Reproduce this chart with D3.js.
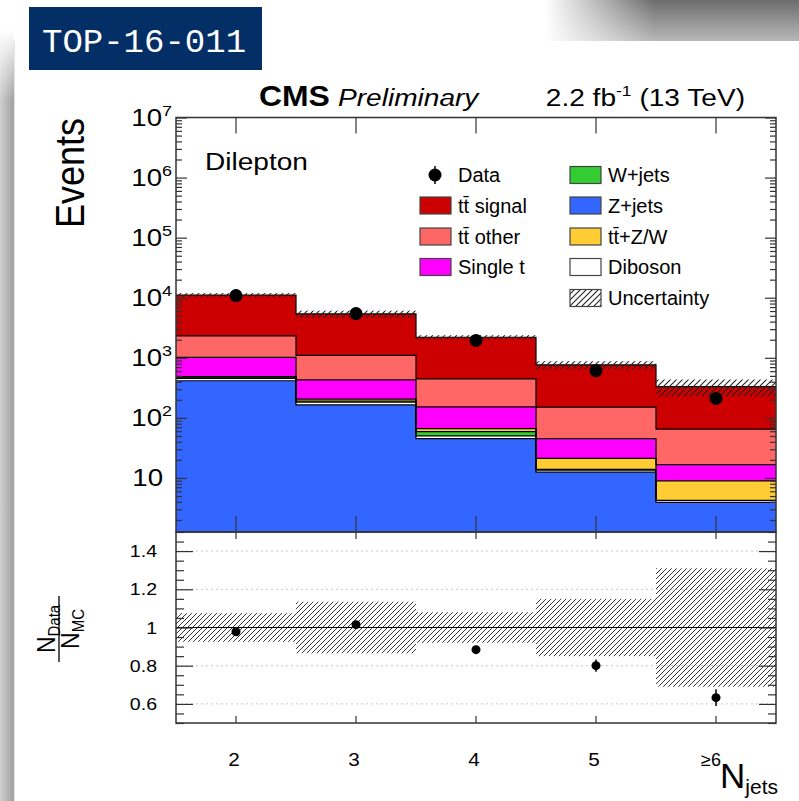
<!DOCTYPE html>
<html><head><meta charset="utf-8">
<script src="https://cdn.jsdelivr.net/npm/d3@7"></script>
<style>body{margin:0;background:#fff}svg{display:block}</style>
</head><body><svg id="c" width="799" height="801"></svg>
<script>
// ---------------- data ----------------
const categories = ["2", "3", "4", "5", "≥6"];
const zJets   = [415, 165, 45, 12.5, 3.9];
const diboson = [40, 18, 5, 1, 0.3];
const wJets   = [20, 8, 9, 0.4, 0.05];
const ttZW    = [12, 14, 7, 7.3, 4.7];
const singleT = [533, 223, 86, 24, 7.7];
const ttOther = [1290, 672, 294, 106, 48.3];
const ttSignal= [8790, 4270, 1754, 611, 267];
const dataObs = [10850, 5450, 1945, 610, 210];
const relUnc  = [0.075, 0.135, 0.08, 0.15, 0.31];
const yMajorTicks = [10, 1e2, 1e3, 1e4, 1e5, 1e6, 1e7];
const ratioTicks = [0.6, 0.8, 1, 1.2, 1.4];

const processes = [
  {key: "zJets", label: "Z+jets", vals: zJets, color: "#3366ff"},
  {key: "diboson", label: "Diboson", vals: diboson, color: "#ffffff"},
  {key: "wJets", label: "W+jets", vals: wJets, color: "#33cc33"},
  {key: "ttZW", label: "tt\u0304+Z/W", vals: ttZW, color: "#ffcc33"},
  {key: "singleT", label: "Single t", vals: singleT, color: "#ff00ff"},
  {key: "ttOther", label: "tt\u0304 other", vals: ttOther, color: "#ff6666"},
  {key: "ttSignal", label: "tt\u0304 signal", vals: ttSignal, color: "#cc0000"}
];
const colorOf = Object.fromEntries(processes.map(p => [p.key, p.color]));

const rows = categories.map((c, i) => {
  const r = {cat: c};
  processes.forEach(p => r[p.key] = p.vals[i]);
  return r;
});
const totals = rows.map(r => d3.sum(processes, p => r[p.key]));

// ---------------- layout ----------------
const svg = d3.select("#c");
const L = 176, R = 776, T = 117.5, MB = 532, RB = 723;
const FONT = "'Liberation Sans', Arial, Helvetica, sans-serif";

const defs = svg.append("defs");
function hatch(id, s, col, w) {
  const p = defs.append("pattern").attr("id", id).attr("patternUnits", "userSpaceOnUse")
    .attr("width", s).attr("height", s);
  p.append("path").attr("d", `M${-1},1 l2,-2 M0,${s} l${s},${-s} M${s-1},${s+1} l2,-2`)
    .attr("stroke", col).attr("stroke-width", w);
}
hatch("hm", 6, "#222", 1.1);
hatch("hr", 5, "#222", 0.9);

// slide decoration
const vg = defs.append("linearGradient").attr("id", "vg").attr("x1", 0).attr("y1", 0).attr("x2", 0).attr("y2", 1);
vg.append("stop").attr("offset", "0").attr("stop-color", "#6c6c6c");
vg.append("stop").attr("offset", "1").attr("stop-color", "#b8b8b8");
const hg = defs.append("linearGradient").attr("id", "hg").attr("gradientUnits", "userSpaceOnUse")
  .attr("x1", 545).attr("y1", 0).attr("x2", 655).attr("y2", 0);
hg.append("stop").attr("offset", "0").attr("stop-color", "#fff").attr("stop-opacity", 0);
hg.append("stop").attr("offset", "1").attr("stop-color", "#fff").attr("stop-opacity", 1);
defs.append("mask").attr("id", "hm1").append("rect").attr("x", 0).attr("y", 0).attr("width", 799).attr("height", 41).attr("fill", "url(#hg)");
const lg = defs.append("linearGradient").attr("id", "lg").attr("x1", 0).attr("y1", 0).attr("x2", 1).attr("y2", 0);
lg.append("stop").attr("offset", "0").attr("stop-color", "#d0d0d0");
lg.append("stop").attr("offset", "1").attr("stop-color", "#a0a0a0");
const tg = defs.append("linearGradient").attr("id", "tg").attr("x1", 0).attr("y1", 0).attr("x2", 0).attr("y2", 1);
tg.append("stop").attr("offset", "0").attr("stop-color", "#fff").attr("stop-opacity", 1);
tg.append("stop").attr("offset", "1").attr("stop-color", "#fff").attr("stop-opacity", 0);

svg.append("rect").attr("x", 0).attr("y", 0).attr("width", 799).attr("height", 41)
  .attr("fill", "url(#vg)").attr("mask", "url(#hm1)");
svg.append("rect").attr("x", 0).attr("y", 30).attr("width", 14).attr("height", 771).attr("fill", "url(#lg)");
svg.append("rect").attr("x", 0).attr("y", 30).attr("width", 14).attr("height", 70).attr("fill", "url(#tg)");
svg.append("rect").attr("x", 14).attr("y", 41).attr("width", 1).attr("height", 760).attr("fill", "#e4e4e4");

svg.append("rect").attr("x", 29).attr("y", 7).attr("width", 233).attr("height", 63).attr("fill", "#032f66");
svg.append("text").attr("x", 42).attr("y", 52).attr("fill", "#fff")
  .attr("font-family", "'Liberation Mono', 'Courier New', monospace").attr("font-size", 34).text("TOP-16-011");

// scales
const x = d3.scaleBand().domain(categories).range([L, R]).paddingInner(0).paddingOuter(0);
const yMin = 1.26;
const y = d3.scaleLog().domain([yMin, 1e7]).range([MB, T]);
const yr = d3.scaleLinear().domain([0.5, 1.5]).range([RB, MB]);

// ---------------- main panel ----------------
const stack = d3.stack().keys(processes.map(p => p.key))(rows);
defs.append("clipPath").attr("id", "cm").append("rect").attr("x", L).attr("y", T).attr("width", R - L).attr("height", MB - T);
const gm = svg.append("g").attr("clip-path", "url(#cm)");
stack.forEach(s => {
  gm.selectAll(null).data(s).enter().append("rect")
    .attr("x", d => x(d.data.cat)).attr("width", x.bandwidth())
    .attr("y", d => y(Math.max(d[1], yMin)))
    .attr("height", d => y(Math.max(d[0], yMin)) - y(Math.max(d[1], yMin)))
    .attr("fill", colorOf[s.key]);
});
const stepLine = d3.line().curve(d3.curveStepAfter);
stack.forEach(s => {
  const pts = s.map(d => [x(d.data.cat), y(Math.max(d[1], yMin))]);
  pts.push([R, pts[pts.length - 1][1]]);
  gm.append("path").attr("d", stepLine(pts)).attr("fill", "none").attr("stroke", "#000").attr("stroke-width", 1.2);
});
// uncertainty band
gm.selectAll(null).data(categories).enter().append("rect")
  .attr("x", c => x(c)).attr("width", x.bandwidth())
  .attr("y", (c, i) => y(totals[i] * (1 + relUnc[i])))
  .attr("height", (c, i) => y(totals[i] * (1 - relUnc[i])) - y(totals[i] * (1 + relUnc[i])))
  .attr("fill", "url(#hm)");
// data
const cx = c => x(c) + x.bandwidth() / 2;
gm.selectAll(null).data(categories).enter().append("line")
  .attr("x1", cx).attr("x2", cx)
  .attr("y1", (c, i) => y(dataObs[i] + Math.sqrt(dataObs[i])))
  .attr("y2", (c, i) => y(dataObs[i] - Math.sqrt(dataObs[i])))
  .attr("stroke", "#000").attr("stroke-width", 1.5);
gm.selectAll(null).data(categories).enter().append("circle")
  .attr("cx", cx).attr("cy", (c, i) => y(dataObs[i])).attr("r", 6.5).attr("fill", "#000");

// ---------------- ratio panel ----------------
const gr = svg.append("g");
gr.selectAll(null).data(ratioTicks.filter(v => v !== 1)).enter().append("line")
  .attr("x1", L).attr("x2", R).attr("y1", d => yr(d)).attr("y2", d => yr(d))
  .attr("stroke", "#c8c8c8").attr("stroke-dasharray", "2,3");
gr.selectAll(null).data(categories).enter().append("rect")
  .attr("x", c => x(c)).attr("width", x.bandwidth())
  .attr("y", (c, i) => yr(1 + relUnc[i]))
  .attr("height", (c, i) => yr(1 - relUnc[i]) - yr(1 + relUnc[i]))
  .attr("fill", "url(#hr)");
gr.append("line").attr("x1", L).attr("x2", R).attr("y1", yr(1)).attr("y2", yr(1)).attr("stroke", "#000").attr("stroke-width", 1);
const ratio = dataObs.map((d, i) => d / totals[i]);
const rErr = dataObs.map((d, i) => Math.sqrt(d) / totals[i]);
gr.selectAll(null).data(categories).enter().append("line")
  .attr("x1", cx).attr("x2", cx)
  .attr("y1", (c, i) => yr(ratio[i] + rErr[i])).attr("y2", (c, i) => yr(ratio[i] - rErr[i]))
  .attr("stroke", "#000").attr("stroke-width", 1.5);
gr.selectAll(null).data(categories).enter().append("circle")
  .attr("cx", cx).attr("cy", (c, i) => yr(ratio[i])).attr("r", 4.5).attr("fill", "#000");

// ---------------- axes ----------------
const axCol = "#333";
function styleAxis(g) {
  g.select(".domain").remove();
  g.selectAll(".tick line").attr("stroke", axCol).attr("stroke-width", 1.2);
  g.selectAll("text").attr("font-family", FONT).attr("fill", "#000");
}
const yMinor = [];
for (let e = 0; e <= 6; e++) for (let m = 2; m <= 9; m++) { const v = m * Math.pow(10, e); if (v >= yMin && v <= 1e7) yMinor.push(v); }
const supDigits = {1: "", 2: "2", 3: "3", 4: "4", 5: "5", 6: "6", 7: "7"};
svg.append("g").attr("transform", `translate(${L},0)`)
  .call(d3.axisLeft(y).tickValues(yMajorTicks).tickSizeInner(-11).tickSizeOuter(0).tickFormat(() => "")).call(styleAxis);
svg.append("g").attr("transform", `translate(${L},0)`)
  .call(d3.axisLeft(y).tickValues(yMinor).tickSizeInner(-6).tickSizeOuter(0).tickFormat(() => "")).call(styleAxis);
svg.append("g").attr("transform", `translate(${R},0)`)
  .call(d3.axisRight(y).tickValues(yMajorTicks).tickSizeInner(-11).tickSizeOuter(0).tickFormat(() => "")).call(styleAxis);
svg.append("g").attr("transform", `translate(${R},0)`)
  .call(d3.axisRight(y).tickValues(yMinor).tickSizeInner(-6).tickSizeOuter(0).tickFormat(() => "")).call(styleAxis);
yMajorTicks.forEach(v => {
  const e = Math.round(Math.log10(v));
  const g = svg.append("g").attr("transform", `translate(${e === 1 ? 163 : 172},${y(v) + 8}) scale(1.2,1)`);
  const t = g.append("text").attr("text-anchor", "end").attr("font-family", FONT).attr("font-size", 23);
  t.append("tspan").text("10");
  if (supDigits[e]) t.append("tspan").attr("dy", -10).attr("font-size", 15).text(supDigits[e]);
});
svg.append("g").attr("transform", `translate(0,${T})`)
  .call(d3.axisTop(x).tickSizeInner(-16).tickSizeOuter(0).tickFormat(() => "")).call(styleAxis);
svg.append("g").attr("transform", `translate(0,${MB})`)
  .call(d3.axisBottom(x).tickSizeInner(-16).tickSizeOuter(0).tickFormat(() => "")).call(styleAxis);
const rMinor = d3.range(0.5, 1.5001, 0.05).map(v => +v.toFixed(2)).filter(v => !ratioTicks.includes(v));
svg.append("g").attr("transform", `translate(${L},0)`)
  .call(d3.axisLeft(yr).tickValues(ratioTicks).tickSizeInner(-17).tickSizeOuter(0).tickFormat(() => "")).call(styleAxis);
svg.append("g").attr("transform", `translate(${L},0)`)
  .call(d3.axisLeft(yr).tickValues(rMinor).tickSizeInner(-8).tickSizeOuter(0).tickFormat(() => "")).call(styleAxis);
svg.append("g").attr("transform", `translate(${R},0)`)
  .call(d3.axisRight(yr).tickValues(ratioTicks).tickSizeInner(-17).tickSizeOuter(0).tickFormat(() => "")).call(styleAxis);
svg.append("g").attr("transform", `translate(${R},0)`)
  .call(d3.axisRight(yr).tickValues(rMinor).tickSizeInner(-8).tickSizeOuter(0).tickFormat(() => "")).call(styleAxis);
svg.append("g").attr("transform", `translate(0,${MB})`)
  .call(d3.axisTop(x).tickSizeInner(-7).tickSizeOuter(0).tickFormat(() => "")).call(styleAxis);
svg.append("g").attr("transform", `translate(0,${RB})`)
  .call(d3.axisBottom(x).tickSizeInner(-7).tickSizeOuter(0).tickFormat(() => "")).call(styleAxis);
ratioTicks.forEach(v => {
  svg.append("g").attr("transform", `translate(157,${yr(v) + 6}) scale(1.15,1)`)
    .append("text").attr("text-anchor", "end").attr("font-family", FONT).attr("font-size", 17)
    .text(d3.format("~g")(v));
});
categories.forEach((c, i) => {
  const last = i === categories.length - 1;
  svg.append("g").attr("transform", `translate(${cx(c) - (last ? 5 : 2)},${RB + 43}) scale(${last ? 1.0 : 1.15},1)`)
    .append("text").attr("text-anchor", "middle").attr("font-family", FONT).attr("font-size", 18).text(c);
});
svg.append("rect").attr("x", L).attr("y", T).attr("width", R - L).attr("height", MB - T)
  .attr("fill", "none").attr("stroke", axCol).attr("stroke-width", 1.5);
svg.append("rect").attr("x", L).attr("y", MB).attr("width", R - L).attr("height", RB - MB)
  .attr("fill", "none").attr("stroke", axCol).attr("stroke-width", 1.5);

// ---------------- titles ----------------
function stext(xp, yp, sx, anchor, size, attrs) {
  const t = svg.append("g").attr("transform", `translate(${xp},${yp}) scale(${sx},1)`)
    .append("text").attr("text-anchor", anchor).attr("font-family", FONT).attr("font-size", size);
  if (attrs) Object.entries(attrs).forEach(([k, v]) => t.attr(k, v));
  return t;
}
stext(259, 106, 1.1, "start", 29, {"font-weight": "bold"}).text("CMS");
stext(338, 106, 1.17, "start", 24, {"font-style": "italic"}).text("Preliminary");
const lumi = stext(745, 106, 1.17, "end", 24);
lumi.append("tspan").text("2.2 fb");
lumi.append("tspan").attr("dy", -10).attr("font-size", 15).text("-1");
lumi.append("tspan").attr("dy", 10).text(" (13 TeV)");
stext(205, 170, 1.17, "start", 24).text("Dilepton");

svg.append("g").attr("transform", `translate(84,118) scale(1.15,1) rotate(-90)`)
  .append("text").attr("text-anchor", "end").attr("font-family", FONT).attr("font-size", 36).text("Events");
const fr = svg.append("g").attr("transform", `translate(59,629) scale(1.1,1) rotate(-90)`).attr("font-family", FONT);
const num = fr.append("text").attr("text-anchor", "middle").attr("x", 0).attr("y", -4).attr("font-size", 23);
num.append("tspan").text("N");
num.append("tspan").attr("font-size", 15).attr("dy", 5).text("Data");
const den = fr.append("text").attr("text-anchor", "middle").attr("x", 0).attr("y", 18).attr("font-size", 23);
den.append("tspan").text("N");
den.append("tspan").attr("font-size", 15).attr("dy", 5).text("MC");
fr.append("line").attr("x1", -33).attr("x2", 33).attr("y1", 0).attr("y2", 0).attr("stroke", "#000").attr("stroke-width", 1.2);
const nj = svg.append("g").attr("transform", `translate(778,788)`)
  .append("text").attr("text-anchor", "end").attr("font-family", FONT).attr("font-size", 35);
nj.append("tspan").text("N");
nj.append("tspan").attr("font-size", 21).attr("dy", 6).text("jets");

// ---------------- legend ----------------
const legCol1 = ["ttSignal", "ttOther", "singleT"];
const legCol2 = ["wJets", "zJets", "ttZW", "diboson"];
const rowY = [175, 205.5, 236.5, 267, 298];
const byKey = Object.fromEntries(processes.map(p => [p.key, p]));
const lg1 = svg.append("g").attr("font-family", FONT).attr("font-size", 20);
lg1.append("line").attr("x1", 435).attr("x2", 435).attr("y1", rowY[0] - 9).attr("y2", rowY[0] + 9).attr("stroke", "#000").attr("stroke-width", 1.5);
lg1.append("circle").attr("cx", 435).attr("cy", rowY[0]).attr("r", 6.5).attr("fill", "#000");
lg1.append("text").attr("x", 458).attr("y", rowY[0] + 7).text("Data");
function legBox(xb, yc, fill, label) {
  lg1.append("rect").attr("x", xb).attr("y", yc - 8.5).attr("width", 31).attr("height", 17)
    .attr("fill", fill).attr("stroke", "#444").attr("stroke-width", 1.2);
  lg1.append("text").attr("x", xb + 38).attr("y", yc + 7).text(label);
}
legCol1.forEach((k, i) => legBox(420, rowY[i + 1], byKey[k].color, byKey[k].label));
legCol2.forEach((k, i) => legBox(570, rowY[i], byKey[k].color, byKey[k].label));
legBox(570, rowY[4], "url(#hm)", "Uncertainty");
</script></body></html>
